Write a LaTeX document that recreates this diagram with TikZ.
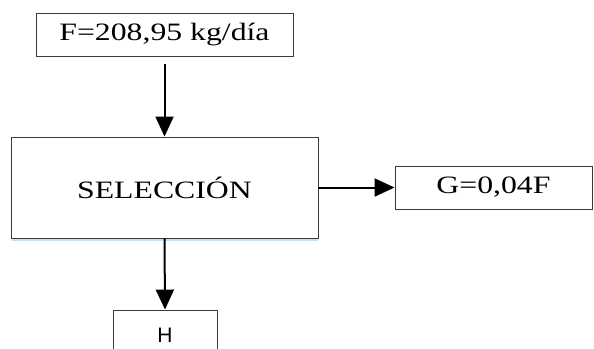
\documentclass[tikz,border=0pt]{standalone}
\usepackage{fontspec}
\setmainfont[FakeStretch=1.27]{Liberation Serif}
\newfontfamily\labelsans{Liberation Sans}
\usetikzlibrary{arrows.meta}
\definecolor{boxline}{RGB}{60,60,60}
\definecolor{shadowblue}{RGB}{200,222,242}
\begin{document}
\begin{tikzpicture}[x=1pt,y=-1pt,
  procbox/.style={draw=boxline,line width=0.9pt,inner sep=0pt,font=\fontsize{25}{28}\selectfont},
  flow/.style={line width=2pt,-{Triangle[length=20pt,width=18pt]}}]
  \useasboundingbox (0,0) rectangle (594,348);
  \clip (0,0) rectangle (594,348);
  % feed stream
  \node[procbox,minimum width=257pt,minimum height=43pt] (feed) at (164.5,34.5) {F=208,95 kg/día};
  % selection unit with its faint lower shadow
  \draw[shadowblue,line width=2pt] (12,240) -- (318,240);
  \node[procbox,fill=white,minimum width=307pt,minimum height=101pt] (sel) at (164.5,187.5) {SELECCIÓN};
  % rejected fraction
  \node[procbox,minimum width=197pt,minimum height=43pt] (rej) at (493.5,187.5) {G=0,04F};
  % accepted product
  \node[procbox,minimum width=104pt,minimum height=50pt,font=\labelsans\fontsize{21}{24}\selectfont] (prod) at (165,335) {H};
  % streams
  \draw[flow,shorten <=8pt] (feed.south) -- (sel.north);
  \draw[flow] (sel.east) -- (rej.west);
  \draw[flow] (sel.south) -- (prod.north);
\end{tikzpicture}
\end{document}
